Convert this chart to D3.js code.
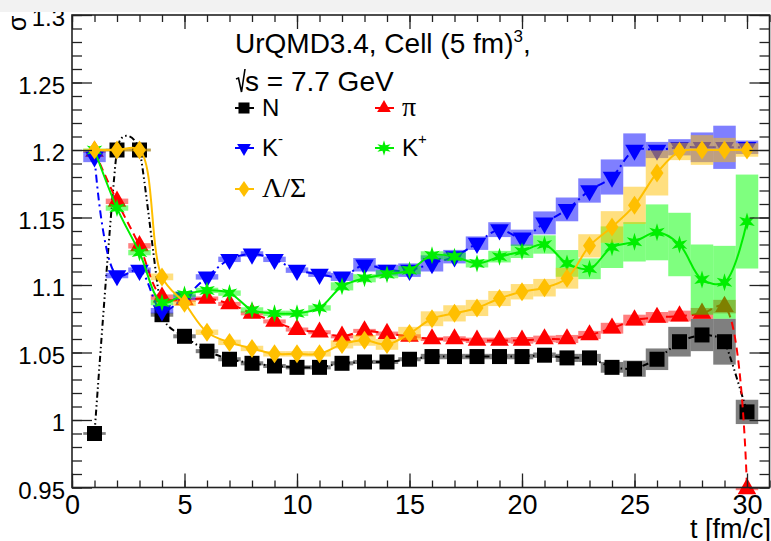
<!DOCTYPE html>
<html><head><meta charset="utf-8">
<script src="https://cdn.jsdelivr.net/npm/d3@7"></script>
<style>html,body{margin:0;padding:0;background:#fff}svg{display:block}</style>
</head><body>
<svg id="c" width="771" height="541"></svg>
<script>
// ---- data ----
const times = d3.range(1, 31);
const nVals   = [0.990,1.200,1.200,1.078,1.062,1.051,1.045,1.042,1.040,1.039,1.039,1.042,1.043,1.043,1.045,1.047,1.047,1.047,1.047,1.047,1.048,1.046,1.046,1.039,1.038,1.045,1.058,1.063,1.058,1.006];
const nErr    = [0.001,0.001,0.001,0.0015,0.0015,0.0015,0.0015,0.0015,0.0015,0.0015,0.0015,0.0015,0.0015,0.0015,0.0015,0.002,0.002,0.002,0.002,0.002,0.002,0.003,0.003,0.004,0.006,0.008,0.011,0.012,0.017,0.009];
const piVals  = [1.199,1.162,1.129,1.091,1.089,1.090,1.086,1.079,1.073,1.067,1.065,1.062,1.066,1.064,1.062,1.060,1.060,1.059,1.059,1.059,1.060,1.060,1.063,1.068,1.074,1.076,1.077,1.079,1.084,0.949];
const piErr   = [0.001,0.002,0.002,0.002,0.0015,0.0015,0.0015,0.0015,0.0015,0.0015,0.0015,0.0015,0.0015,0.0015,0.0015,0.0015,0.002,0.002,0.002,0.0025,0.0025,0.003,0.003,0.004,0.004,0.004,0.004,0.004,0.005,0.001];
const kmVals  = [1.195,1.107,1.111,1.081,1.091,1.106,1.119,1.123,1.119,1.111,1.108,1.106,1.115,1.111,1.111,1.116,1.121,1.131,1.141,1.135,1.146,1.156,1.170,1.180,1.200,1.200,1.202,1.202,1.202,1.202];
const kmErr   = [0.004,0.002,0.002,0.002,0.002,0.002,0.002,0.002,0.002,0.002,0.002,0.003,0.005,0.004,0.005,0.006,0.005,0.005,0.0055,0.006,0.0085,0.0088,0.009,0.013,0.0123,0.006,0.006,0.011,0.016,0.005];
const kpVals  = [1.200,1.157,1.124,1.087,1.093,1.096,1.094,1.0815,1.079,1.079,1.083,1.099,1.105,1.108,1.111,1.122,1.121,1.116,1.121,1.125,1.130,1.116,1.112,1.128,1.132,1.139,1.130,1.104,1.102,1.147];
const kpErr   = [0.001,0.002,0.002,0.002,0.002,0.002,0.002,0.002,0.002,0.002,0.002,0.003,0.003,0.003,0.003,0.003,0.003,0.003,0.0043,0.005,0.0068,0.0099,0.0077,0.0154,0.0146,0.0207,0.0235,0.026,0.027,0.0348];
const lamVals = [1.200,1.200,1.200,1.106,1.0865,1.065,1.0575,1.053,1.049,1.049,1.049,1.056,1.059,1.056,1.064,1.075,1.079,1.083,1.090,1.095,1.098,1.105,1.129,1.143,1.159,1.183,1.199,1.200,1.200,1.200];
const lamErr  = [0.001,0.001,0.001,0.0025,0.002,0.002,0.002,0.002,0.002,0.002,0.002,0.003,0.004,0.004,0.005,0.0055,0.006,0.006,0.0056,0.0057,0.0065,0.0077,0.0086,0.0117,0.0138,0.0167,0.0065,0.011,0.009,0.005];
const xMajorTicks = [0,5,10,15,20,25,30];
const yMajorTicks = [0.95,1,1.05,1.1,1.15,1.2,1.25,1.3];
const yTickLabels = ["0.95","1","1.05","1.1","1.15","1.2","1.25","1.3"];
const seriesNames = ["N","π","K","K","Λ/Σ"];

// ---- layout ----
const svg = d3.select("#c");
const x = d3.scaleLinear().domain([0,31]).range([72,769.5]);
const y = d3.scaleLinear().domain([0.95,1.3]).range([487.5,15]);
const FONT = "'Liberation Sans', Arial, Helvetica, sans-serif";
const SERIF = "'Liberation Serif', 'Times New Roman', serif";

// custom symbols
const diamond = {draw(ctx, size){ const w=6.5, h=9.5; ctx.moveTo(0,-h); ctx.lineTo(w,0); ctx.lineTo(0,h); ctx.lineTo(-w,0); ctx.closePath(); }};
const star6 = {draw(ctx, size){ const R=9, r=3.6; for(let i=0;i<12;i++){ const a=Math.PI/6*i - Math.PI/2; const rr = i%2? r:R; const px=rr*Math.cos(a), py=rr*Math.sin(a); if(i===0) ctx.moveTo(px,py); else ctx.lineTo(px,py);} ctx.closePath(); }};

const series = [
  {vals:nVals, err:nErr, color:"#000000", box:"rgba(0,0,0,0.5)", dash:"6,3,1.5,3,1.5,3", sym:d3.symbolSquare, size:225, rot:0, curve:d3.curveCardinal.tension(0.5)},
  {vals:piVals, err:piErr, color:"#ff0000", box:"rgba(255,0,0,0.5)", dash:"8,5", sym:d3.symbolTriangle, size:150, rot:0, curve:d3.curveCatmullRom.alpha(0.5)},
  {vals:kmVals, err:kmErr, color:"#0000ff", box:"rgba(0,0,255,0.5)", dash:"8,4,2,4", sym:d3.symbolTriangle, size:150, rot:180, curve:d3.curveCatmullRom.alpha(0.5)},
  {vals:kpVals, err:kpErr, color:"#00ee00", box:"rgba(0,255,0,0.5)", dash:null, sym:star6, size:100, rot:0, curve:d3.curveCatmullRom.alpha(0.5)},
  {vals:lamVals, err:lamErr, color:"#ffbf00", box:"rgba(255,192,0,0.5)", dash:null, sym:diamond, size:100, rot:0, curve:d3.curveCatmullRom.alpha(0.5)}
];

const plot = svg.append("g");
svg.append("clipPath").attr("id","pc").append("rect")
  .attr("x",72).attr("y",15).attr("width",697.5).attr("height",472.5);

series.forEach(s => {
  const pts = times.map((t,i)=>({t, v:s.vals[i], e:s.err[i]}));
  const g = plot.append("g");
  g.selectAll("rect").data(pts).enter().append("rect")
    .attr("x", d=>x(d.t-0.5)).attr("width", d=>x(d.t+0.5)-x(d.t-0.5))
    .attr("y", d=>y(d.v+d.e)).attr("height", d=>Math.max(2, y(d.v-d.e)-y(d.v+d.e)))
    .attr("fill", s.box);
  const line = d3.line().x(d=>x(d.t)).y(d=>y(d.v)).curve(s.curve);
  g.append("path").attr("d", line(pts)).attr("fill","none").attr("stroke", s.color)
    .attr("stroke-width",2).attr("stroke-dasharray", s.dash).attr("clip-path","url(#pc)");
  g.selectAll("path.m").data(pts).enter().append("path").attr("class","m")
    .attr("d", d3.symbol().type(s.sym).size(s.size))
    .attr("transform", d=>`translate(${x(d.t)},${y(d.v)}) rotate(${s.rot})`)
    .attr("fill", s.color);
});

// ---- axes ----
function styleAxis(g){ g.select(".domain").remove(); g.selectAll("line").attr("stroke","#222").attr("stroke-width",1.3); g.selectAll("text").attr("font-family",FONT).attr("fill","#000"); }
const xMinor = d3.range(0,32);
const yMinor = d3.range(95,131).map(v=>v/100);
svg.append("g").attr("transform","translate(0,487.5)").call(d3.axisBottom(x).tickValues(xMinor).tickSize(-7).tickFormat("")).call(styleAxis);
svg.append("g").attr("transform","translate(0,487.5)").call(d3.axisBottom(x).tickValues(xMajorTicks).tickSize(-14).tickPadding(7).tickFormat(d3.format("d"))).call(styleAxis).selectAll("text").attr("font-size",27);
svg.append("g").attr("transform","translate(0,15)").call(d3.axisTop(x).tickValues(xMinor).tickSize(-7).tickFormat("")).call(styleAxis);
svg.append("g").attr("transform","translate(0,15)").call(d3.axisTop(x).tickValues(xMajorTicks).tickSize(-14).tickFormat("")).call(styleAxis);
svg.append("g").attr("transform","translate(72,0)").call(d3.axisLeft(y).tickValues(yMinor).tickSize(-10).tickFormat("")).call(styleAxis);
svg.append("g").attr("transform","translate(72,0)").call(d3.axisLeft(y).tickValues(yMajorTicks).tickSize(-20).tickPadding(7).tickFormat((d,i)=>yTickLabels[i])).call(styleAxis).selectAll("text").attr("font-size",24).attr("dy","0.45em");
svg.append("g").attr("transform","translate(769.5,0)").call(d3.axisRight(y).tickValues(yMinor).tickSize(-10).tickFormat("")).call(styleAxis);
svg.append("g").attr("transform","translate(769.5,0)").call(d3.axisRight(y).tickValues(yMajorTicks).tickSize(-20).tickFormat("")).call(styleAxis);
svg.append("rect").attr("x",72).attr("y",15).attr("width",697.5).attr("height",472.5).attr("fill","none").attr("stroke","#222").attr("stroke-width",1.6);

// axis titles
svg.append("text").attr("x",771).attr("y",538).attr("text-anchor","end").attr("font-family",FONT).attr("font-size",27).text("t [fm/c]");
svg.append("text").attr("transform","translate(26,31) rotate(-90)").attr("font-family",FONT).attr("font-size",25).text("σ");

// ---- annotation & legend ----
const t1 = svg.append("text").attr("x",235).attr("y",53).attr("font-family",FONT).attr("font-size",28);
t1.append("tspan").text("UrQMD3.4, Cell (5 fm)");
t1.append("tspan").attr("font-size",17).attr("dy",-11).text("3");
t1.append("tspan").attr("dy",11).text(",");
svg.append("path").attr("d","M236,79 L238.5,78 L241.5,92 L245,69").attr("fill","none").attr("stroke","#000").attr("stroke-width",1.6);
svg.append("text").attr("x",245).attr("y",91).attr("font-family",FONT).attr("font-size",28).text("s = 7.7 GeV");

const legPos = [[244,108],[384,108],[244,148],[384,148],[244,189]];
series.forEach((s,i)=>{
  const [lx,ly] = legPos[i];
  const g = svg.append("g");
  g.append("line").attr("x1",lx-9).attr("x2",lx+10).attr("y1",ly).attr("y2",ly).attr("stroke",s.color).attr("stroke-width",2);
  g.append("path").attr("d", d3.symbol().type(s.sym).size(s.size*0.75)).attr("transform",`translate(${lx},${ly}) scale(0.85) rotate(${s.rot})`).attr("fill",s.color);
  const greek = (i===1||i===4);
  const tx = g.append("text").attr("x",lx+18).attr("y",ly+8).attr("font-size", greek?28:24)
    .attr("font-family", greek?SERIF:FONT);
  tx.append("tspan").text(seriesNames[i]);
  if(i===2) tx.append("tspan").attr("font-size",15).attr("dy",-12).text("-");
  if(i===3) tx.append("tspan").attr("font-size",15).attr("dy",-12).text("+");
});

// top band (screenshot margin)
svg.append("rect").attr("x",0).attr("y",0).attr("width",771).attr("height",12).attr("fill","#f2f2f2");
</script>
</body></html>
